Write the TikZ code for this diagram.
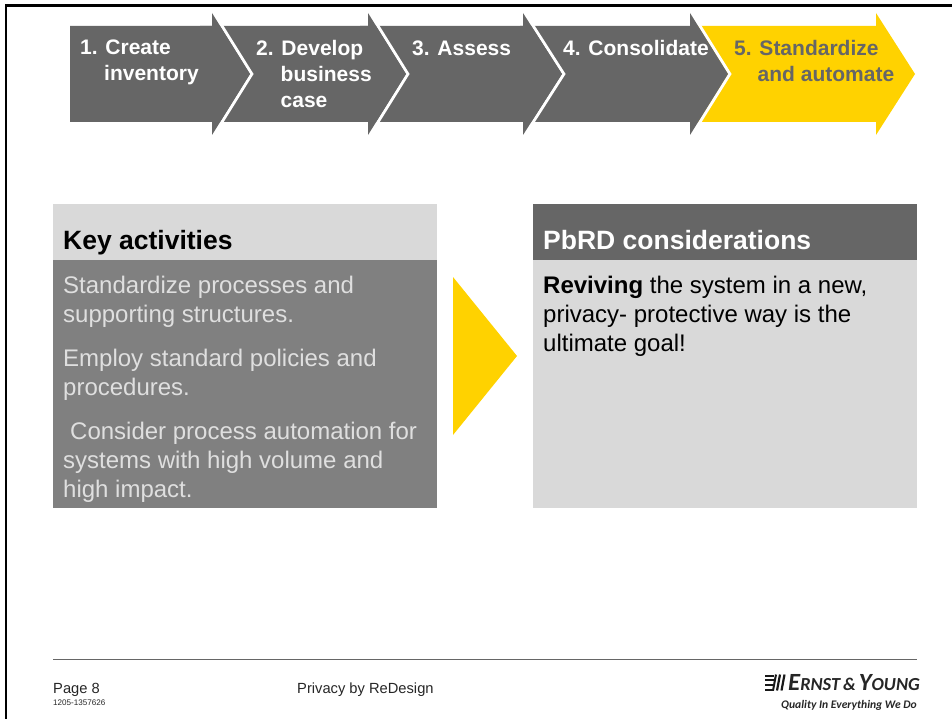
\documentclass[tikz,border=0pt]{standalone}
\usepackage{fontspec}
\setmainfont{Liberation Sans}
\newfontfamily\logofont{Carlito}
\usepackage{tikz}
\usetikzlibrary{positioning}
\definecolor{eydark}{HTML}{666666}
\definecolor{eymid}{HTML}{808080}
\definecolor{eylight}{HTML}{D9D9D9}
\definecolor{eyyellow}{HTML}{FFD200}
\tikzset{
  stepdark/.style={fill=eydark},
  stepyellow/.style={fill=eyyellow},
  stepgap/.style={draw=white,line width=3pt},
  steptext/.style={anchor=north west,inner sep=0pt,align=left,text=white,execute at begin node=\strut,font=\fontsize{21}{26}\selectfont\bfseries},
  headtext/.style={anchor=base west,inner sep=0pt,font=\fontsize{26.5}{29}\selectfont\bfseries},
  bodytext/.style={anchor=north west,inner sep=0pt,align=left,execute at begin node=\strut,font=\fontsize{24}{29}\selectfont},
  foottext/.style={anchor=base west,inner sep=0pt,text=black!85,font=\fontsize{14.7}{16}\selectfont},
}
\begin{document}
\begin{tikzpicture}[x=1pt,y=-1pt]
\useasboundingbox (0,0) rectangle (952,719);
\draw[line width=2.5pt,black] (6.2,719) -- (6.2,5.5) -- (952,5.5);
% process arrows
\fill[stepyellow] (690,26) -- (876,26) -- (876,13) -- (915,74) -- (876,135) -- (876,122) -- (690,122) -- cycle;
\draw[stepgap] (691.8,13) -- (729.8,74) -- (691.8,135);
\fill[stepdark] (520,26) -- (690,26) -- (690,13) -- (728,74) -- (690,135) -- (690,122) -- (520,122) -- cycle;
\draw[stepgap] (524.8,13) -- (563.8,74) -- (524.8,135);
\fill[stepdark] (360,26) -- (523,26) -- (523,13) -- (562,74) -- (523,135) -- (523,122) -- (360,122) -- cycle;
\draw[stepgap] (369.8,13) -- (407.8,74) -- (369.8,135);
\fill[stepdark] (200,26) -- (368,26) -- (368,13) -- (406,74) -- (368,135) -- (368,122) -- (200,122) -- cycle;
\draw[stepgap] (213.8,13) -- (251.8,74) -- (213.8,135);
\fill[stepdark] (70,26) -- (212,26) -- (212,13) -- (250,74) -- (212,135) -- (212,122) -- (70,122) -- cycle;
\node[steptext] (create) at (80,39.8) {1. Create\\\hspace*{24pt}inventory};
\node[steptext] (develop) at (256,39.8) {2. Develop\\\hspace*{24.5pt}business\\\hspace*{24.5pt}case};
\node[steptext] (assess) at (412,36.8) {3. Assess};
\node[steptext] (consolidate) at (563,36.8) {4. Consolidate};
\node[steptext,text=eydark] (standardize) at (734,39.8) {5. Standardize\\\hspace*{23.5pt}and automate};
% panels
\fill[eylight] (53,204) rectangle (437,260);
\fill[eymid] (53,260) rectangle (437,508);
\fill[eydark] (533,204) rectangle (917,260);
\fill[eylight] (533,260) rectangle (917,508);
\fill[eyyellow] (453,277) -- (517,356) -- (453,435) -- cycle;
\node[headtext,text=black] (activities) at (63,249) {Key activities};
\node[headtext,text=white] (considerations) at (543,249) {PbRD considerations};
\node[bodytext,text=eylight!85!white] (activitylist) at (63,276) {Standardize processes and\\supporting structures.\\[15pt]Employ standard policies and\\procedures.\\[15pt]\hspace*{7pt}Consider process automation for\\systems with high volume and\\high impact.};
\node[bodytext,text=black] (goal) at (543,276) {\textbf{Reviving} the system in a new,\\privacy- protective way is the\\ultimate goal!};
% footer
\draw[eydark,line width=1pt] (53,659) -- (917,659);
\node[foottext] (page) at (53,693) {Page 8};
\node[foottext,font=\fontsize{8.1}{9}\selectfont] (jobno) at (53,705) {1205-1357626};
\node[foottext] (title) at (297,693) {Privacy by ReDesign};
% logo
\foreach \y in {675.5,680,684.5,689.5} {
  \draw[black!90,line width=2pt] (765,\y) -- (774,\y);
}
\draw[black!90,line width=2pt] (776,674.5) -- (773,690.5);
\draw[black!90,line width=2.2pt] (780,674.5) -- (777,690.5);
\draw[black!90,line width=2.2pt] (784.5,674.5) -- (781.5,690.5);
\node[anchor=base east,inner sep=0pt,text=black!85,font=\logofont\itshape\bfseries\fontsize{24.7}{24}\selectfont] (ernst) at (920,690) {E{\fontsize{18.4}{20}\selectfont RNST}{\fontsize{18}{20}\selectfont\,\&\,}Y{\fontsize{18.4}{20}\selectfont OUNG}};
\node[anchor=base east,inner sep=0pt,text=black!85,font=\logofont\itshape\bfseries\fontsize{11.6}{14}\selectfont] (quality) at (917,708) {Quality In Everything We Do};
\end{tikzpicture}
\end{document}
